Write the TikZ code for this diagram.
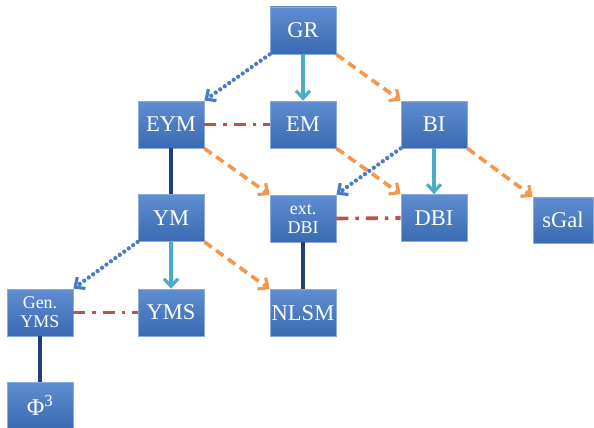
\documentclass[tikz,border=0pt]{standalone}
\usepackage{fontspec}
\setmainfont{Liberation Serif}
\usetikzlibrary{arrows.meta}
\definecolor{boxtop}{HTML}{5F8DD0}
\definecolor{boxbot}{HTML}{3A6AB2}
\definecolor{boxedge}{HTML}{8AABDD}
\definecolor{dotblue}{HTML}{4A7CC6}
\definecolor{teal}{HTML}{4BACC6}
\definecolor{orng}{HTML}{F79646}
\definecolor{redd}{HTML}{C0504D}
\definecolor{navy}{HTML}{1F3F7A}
\tikzset{
  theory/.style={rectangle, top color=boxtop, bottom color=boxbot, draw=boxedge, line width=0.8pt,
    minimum width=66pt, minimum height=47pt, inner sep=0pt, text=white, font=\fontsize{22.5}{24}\selectfont},
  small/.style={font=\fontsize{18}{19}\selectfont, align=center},
  tip/.style={-{Straight Barb[length=7.5pt,width=14pt,line width=3.2pt]}},
  dotarrow/.style={draw=dotblue, line width=4.3pt, line cap=round, dash pattern=on 0pt off 5.5pt, tip},
  solarrow/.style={draw=teal, line width=3.2pt, tip},
  dasharrow/.style={draw=orng, line width=3.6pt, dash pattern=on 9pt off 5.5pt, tip},
  dashdot/.style={draw=redd, line width=3.6pt, dash pattern=on 12pt off 7pt on 3.5pt off 7pt},
  solid line/.style={draw=navy, line width=3.2pt},
}
\begin{document}
\begin{tikzpicture}[x=1pt,y=-1pt]
\useasboundingbox (0,0) rectangle (594,428);
\node[theory] (GR) at (303,30.5) {GR};
\node[theory] (EYM) at (171,124.5) {EYM};
\node[theory] (EM) at (303,124.5) {EM};
\node[theory] (BI) at (434,124.5) {BI};
\node[theory] (YM) at (171,218) {YM};
\node[theory,small] (eDBI) at (303,218.5) {ext.\\DBI};
\node[theory] (DBI) at (434,218) {DBI};
\node[theory,minimum width=60pt,minimum height=46pt] (sGal) at (563,220) {sGal};
\node[theory,small] (GYMS) at (40,312.5) {Gen.\\YMS};
\node[theory] (YMS) at (171,312.5) {YMS};
\node[theory] (NLSM) at (303,313) {NLSM};
\node[theory,font=\fontsize{24}{26}\selectfont] (Phi) at (40,405.5) {Φ\textsuperscript{3}};

\draw[dotarrow] (GR.south west) -- (EYM.north east);
\draw[solarrow] (GR.south) -- (EM.north);
\draw[dasharrow] (GR.south east) -- (BI.north west);
\draw[dashdot] (EYM.east) -- (EM.west);
\draw[solid line] (EYM.south) -- (YM.north);
\draw[dasharrow] (EYM.south east) -- (eDBI.north west);
\draw[dasharrow] (EM.south east) -- (DBI.north west);
\draw[dotarrow] (BI.south west) -- (eDBI.north east);
\draw[solarrow] (BI.south) -- (DBI.north);
\draw[dasharrow] (BI.south east) -- (sGal.north west);
\draw[dashdot] (eDBI.east) -- (DBI.west);
\draw[solid line] (eDBI.south) -- (NLSM.north);
\draw[dotarrow] (YM.south west) -- (GYMS.north east);
\draw[solarrow] (YM.south) -- (YMS.north);
\draw[dasharrow] (YM.south east) -- (NLSM.north west);
\draw[dashdot] (GYMS.east) -- (YMS.west);
\draw[solid line] (GYMS.south) -- (Phi.north);
\end{tikzpicture}
\end{document}
